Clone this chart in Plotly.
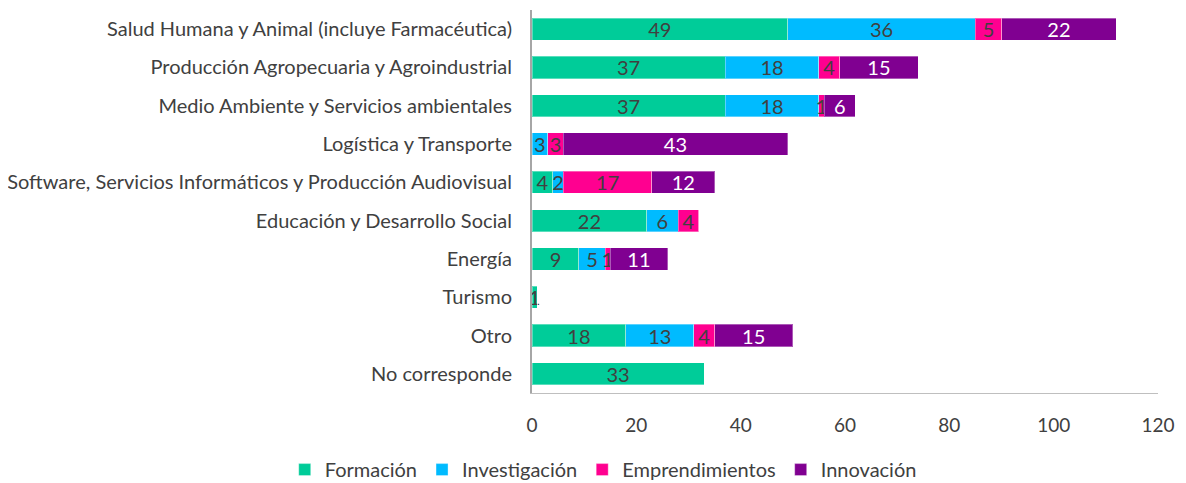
import plotly.graph_objects as go

categories = [
    "Salud Humana y Animal (incluye Farmacéutica)",
    "Producción Agropecuaria y Agroindustrial",
    "Medio Ambiente y Servicios ambientales",
    "Logística y Transporte",
    "Software, Servicios Informáticos y Producción Audiovisual",
    "Educación y Desarrollo Social",
    "Energía",
    "Turismo",
    "Otro",
    "No corresponde",
]
formacion = [49, 37, 37, 0, 4, 22, 9, 1, 18, 33]
investigacion = [36, 18, 18, 3, 2, 6, 5, 0, 13, 0]
emprendimientos = [5, 4, 1, 3, 17, 4, 1, 0, 4, 0]
innovacion = [22, 15, 6, 43, 12, 0, 11, 0, 15, 0]

series = [
    ("Formación", formacion, "#00CC99", "#404040"),
    ("Investigación", investigacion, "#00BBFF", "#404040"),
    ("Emprendimientos", emprendimientos, "#FF0090", "#404040"),
    ("Innovación", innovacion, "#800091", "#FFFFFF"),
]

font_family = "Lato, 'Open Sans', sans-serif"

fig = go.Figure()
for name, vals, color, tcolor in series:
    fig.add_trace(go.Bar(
        y=categories,
        x=vals,
        name=name,
        orientation="h",
        marker=dict(color=color, line=dict(color="rgba(255,255,255,0.35)", width=1)),
        text=[str(v) if v else "" for v in vals],
        textposition="inside",
        textangle=0,
        insidetextanchor="middle",
        constraintext="none",
        textfont=dict(color=tcolor, size=20, family=font_family),
        hoverinfo="x+name",
    ))

fig.update_layout(
    barmode="stack",
    bargap=0.42,
    width=1186,
    height=483,
    margin=dict(l=524, r=36, t=2, b=98, autoexpand=False),
    plot_bgcolor="white",
    paper_bgcolor="white",
    font=dict(family=font_family, size=20, color="#404040"),
    legend=dict(
        orientation="h",
        x=-0.395, xanchor="left",
        y=-0.2, yanchor="middle",
        font=dict(size=20, color="#404040"),
        traceorder="normal",
        itemwidth=30,
        tracegroupgap=0,
    ),
    showlegend=True,
)
fig.update_xaxes(
    range=[0, 120],
    tickvals=[0, 20, 40, 60, 80, 100, 120],
    showgrid=False,
    zeroline=False,
    showline=True,
    linecolor="#BFBFBF",
    linewidth=1,
    ticks="",
    ticklabelstandoff=15,
    tickfont=dict(size=19, color="#404040"),
)
fig.update_yaxes(
    categoryorder="array",
    categoryarray=categories[::-1],
    showgrid=False,
    showline=True,
    linecolor="#A6A6A6",
    linewidth=2,
    ticks="",
    ticklabelstandoff=14,
    tickfont=dict(size=20, color="#404040"),
)

fig.write_html("out.html")
